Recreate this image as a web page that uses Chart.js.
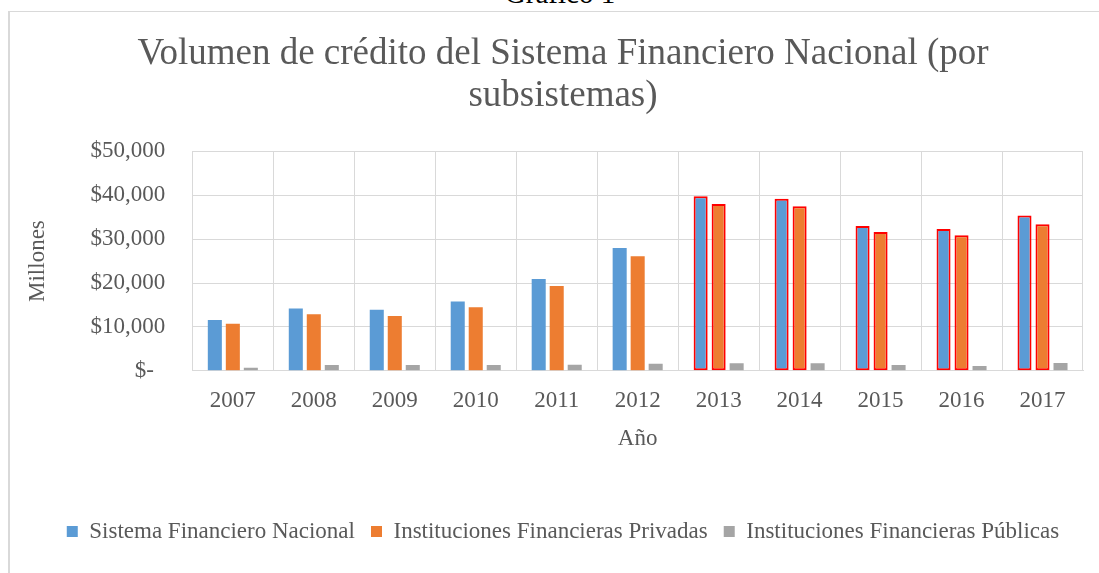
<!DOCTYPE html>
<html lang="es">
<head>
  <meta charset="UTF-8" />
  <title>Volumen de crédito</title>
  <script src="https://cdn.jsdelivr.net/npm/chart.js"></script>
  <style>
    * { margin: 0; padding: 0; box-sizing: border-box; }
    body { background: #fff; width: 1099px; height: 573px; overflow: hidden; position: relative; font-family: 'Liberation Serif', serif; }
    #frame {
      position: absolute; left: 8px; top: 11px; width: 1200px; height: 700px;
      border: 1px solid #d9d9d9; border-left-width: 2px;
    }
    #caption {
      position: absolute; left: 0; top: -23px; width: 1120px; text-align: center;
      font-size: 29px; color: #000;
    }
    canvas { position: absolute; left: 0; top: 0; }
  </style>
</head>
<body>
  <div id="frame"></div>
  <div id="caption">Gráfico 1</div>
  <canvas id="chart" width="1099" height="573"></canvas>
  <script>
    const years = ['2007', '2008', '2009', '2010', '2011', '2012', '2013', '2014', '2015', '2016', '2017'];
    const sistemaNacional = [11600, 14200, 13900, 15800, 20900, 28000, 39800, 39200, 33000, 32300, 35400];
    const privadas = [10700, 12900, 12500, 14500, 19300, 26100, 38000, 37500, 31600, 30900, 33400];
    const publicas = [700, 1300, 1300, 1300, 1400, 1600, 1700, 1700, 1300, 1100, 1800];
    const highlighted = [0, 0, 0, 0, 0, 0, 1, 1, 1, 1, 1];

    const textGrey = '#595959';
    const serif = "'Liberation Serif', 'Times New Roman', serif";
    const redBorder = highlighted.map(h => h ? 2 : 0);

    new Chart(document.getElementById('chart').getContext('2d'), {
      type: 'bar',
      data: {
        labels: years,
        datasets: [
          {
            label: 'Sistema Financiero Nacional',
            data: sistemaNacional,
            backgroundColor: '#5B9BD5',
            borderColor: '#FF0000',
            borderWidth: redBorder,
            borderSkipped: false
          },
          {
            label: 'Instituciones Financieras Privadas',
            data: privadas,
            backgroundColor: '#ED7D31',
            borderColor: '#FF0000',
            borderWidth: redBorder,
            borderSkipped: false
          },
          {
            label: 'Instituciones Financieras Públicas',
            data: publicas,
            backgroundColor: '#A5A5A5',
            borderWidth: 0
          }
        ]
      },
      options: {
        responsive: false,
        animation: false,
        categoryPercentage: 0.667,
        barPercentage: 0.78,
        layout: { padding: { left: 43, right: 16, top: 0, bottom: 20 } },
        plugins: {
          title: {
            display: true,
            text: ['Volumen de crédito del Sistema Financiero Nacional (por', 'subsistemas)'],
            color: textGrey,
            font: { family: serif, size: 37, weight: 'normal', lineHeight: 1.14 },
            padding: { top: 33, bottom: 34 }
          },
          legend: {
            position: 'bottom',
            labels: {
              color: textGrey,
              font: { family: serif, size: 23 },
              boxWidth: 11,
              boxHeight: 11,
              padding: 16
            }
          },
          tooltip: { enabled: false }
        },
        scales: {
          x: {
            grid: { color: '#D9D9D9', drawTicks: false },
            border: { color: '#D9D9D9' },
            ticks: { color: textGrey, font: { family: serif, size: 23 }, padding: 16 },
            title: {
              display: true, text: 'Año', color: textGrey,
              font: { family: serif, size: 23 },
              padding: { top: -5, bottom: 51 }
            }
          },
          y: {
            min: 0,
            max: 50000,
            grid: { color: '#D9D9D9', drawTicks: false },
            border: { color: '#D9D9D9' },
            ticks: {
              stepSize: 10000,
              color: textGrey,
              font: { family: serif, size: 23 },
              padding: 27,
              callback: v => v === 0 ? '$-  ' : '$' + v.toLocaleString('en-US')
            },
            title: {
              display: true, text: 'Millones', color: textGrey,
              font: { family: serif, size: 23 },
              padding: { top: -19, bottom: 12 }
            }
          }
        }
      }
    });
  </script>
</body>
</html>
